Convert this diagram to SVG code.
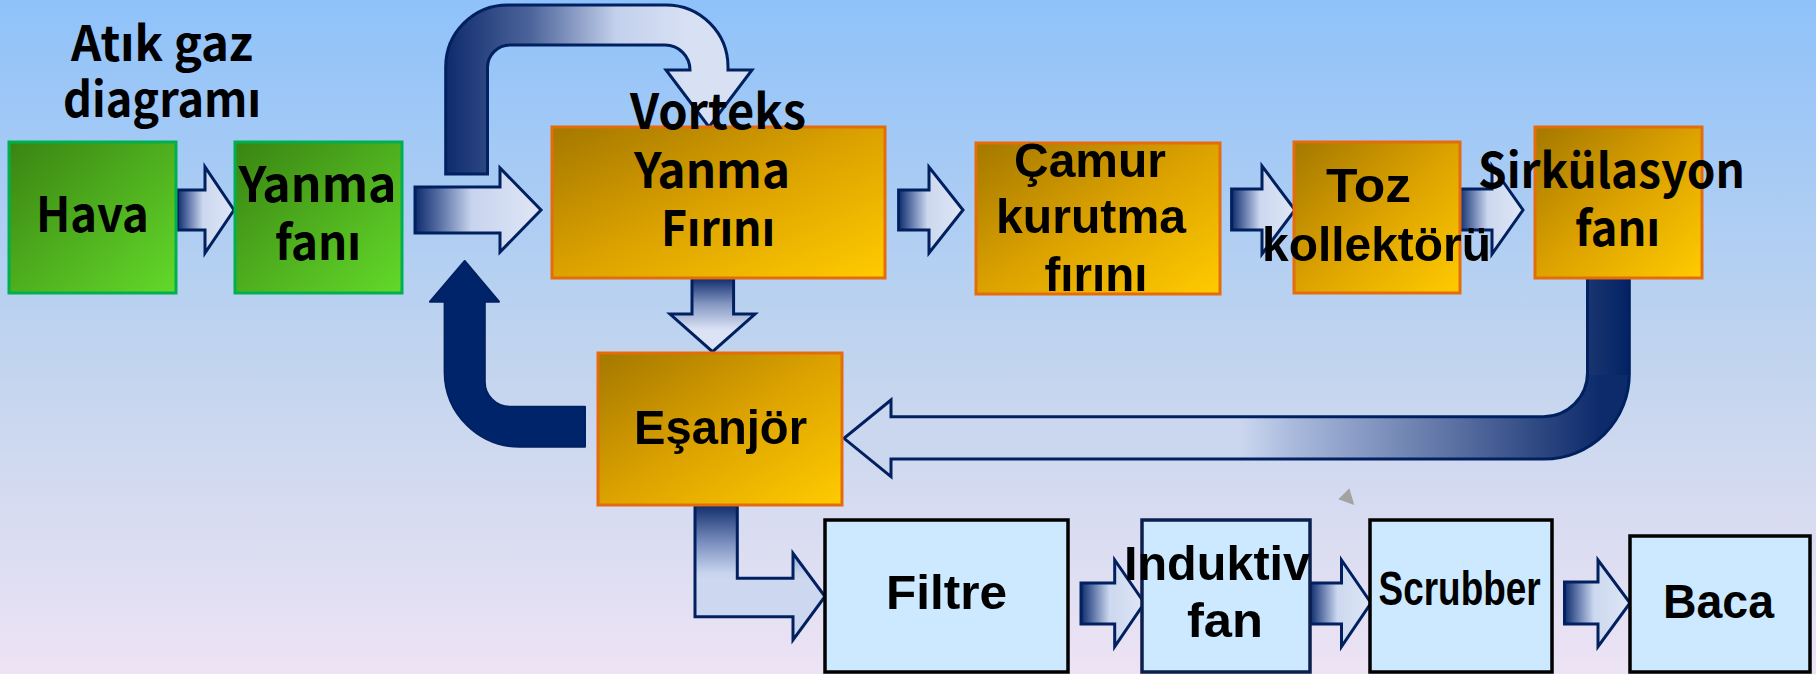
<svg xmlns="http://www.w3.org/2000/svg" width="1816" height="674" viewBox="0 0 1816 674">
  <defs>
    <linearGradient id="bg" x1="0" y1="0" x2="0" y2="1">
      <stop offset="0" stop-color="#8fc2fa"/>
      <stop offset="0.55" stop-color="#c3d5ee"/>
      <stop offset="1" stop-color="#ede3f4"/>
    </linearGradient>
    <linearGradient id="green" x1="0" y1="0" x2="1" y2="1">
      <stop offset="0" stop-color="#3a8412"/>
      <stop offset="1" stop-color="#63d92a"/>
    </linearGradient>
    <linearGradient id="orange" x1="0" y1="0" x2="1" y2="1">
      <stop offset="0" stop-color="#a47800"/>
      <stop offset="0.5" stop-color="#dca200"/>
      <stop offset="1" stop-color="#ffcb00"/>
    </linearGradient>
    <linearGradient id="arrH" x1="0" y1="0" x2="1" y2="0">
      <stop offset="0" stop-color="#0e2b6c"/>
      <stop offset="0.22" stop-color="#6a80b0"/>
      <stop offset="0.45" stop-color="#ccd8ef"/>
      <stop offset="1" stop-color="#dfe6f6"/>
    </linearGradient>
    <linearGradient id="arrBig" gradientUnits="userSpaceOnUse" x1="415" y1="0" x2="541" y2="0">
      <stop offset="0" stop-color="#0e2b6c"/>
      <stop offset="0.2" stop-color="#5a72a6"/>
      <stop offset="0.45" stop-color="#c8d4ee"/>
      <stop offset="1" stop-color="#dfe6f6"/>
    </linearGradient>
    <linearGradient id="arrTop" gradientUnits="userSpaceOnUse" x1="446" y1="0" x2="690" y2="0">
      <stop offset="0" stop-color="#0e2b6c"/>
      <stop offset="0.35" stop-color="#4d659b"/>
      <stop offset="0.7" stop-color="#c4d1ec"/>
      <stop offset="1" stop-color="#d8e1f4"/>
    </linearGradient>
    <linearGradient id="arrDown" gradientUnits="userSpaceOnUse" x1="0" y1="278" x2="0" y2="330">
      <stop offset="0" stop-color="#0e2b6c"/>
      <stop offset="0.5" stop-color="#8597c2"/>
      <stop offset="1" stop-color="#dbe3f5"/>
    </linearGradient>
    <linearGradient id="arrL" gradientUnits="userSpaceOnUse" x1="0" y1="505" x2="0" y2="580">
      <stop offset="0" stop-color="#112d6c"/>
      <stop offset="0.5" stop-color="#7a8fbf"/>
      <stop offset="0.9" stop-color="#c6d3ee"/>
      <stop offset="1" stop-color="#cdd8f0"/>
    </linearGradient>
    <linearGradient id="arrPipe" gradientUnits="userSpaceOnUse" x1="1240" y1="0" x2="1600" y2="0">
      <stop offset="0" stop-color="#cbd7ef"/>
      <stop offset="0.15" stop-color="#a9b9dc"/>
      <stop offset="0.6" stop-color="#5a70a2"/>
      <stop offset="1" stop-color="#0d2a6a"/>
    </linearGradient>
    <linearGradient id="arrPipeV" gradientUnits="userSpaceOnUse" x1="1587" y1="0" x2="1630" y2="0">
      <stop offset="0" stop-color="#1a3670"/>
      <stop offset="1" stop-color="#022264"/>
    </linearGradient>
    <style>
      .box-g { fill: url(#green); stroke: #00b050; stroke-width: 3; }
      .box-o { fill: url(#orange); stroke: #e46c0a; stroke-width: 3; }
      .box-b { fill: #cce9ff; stroke: #000000; stroke-width: 3.5; }
      .arr { stroke: #002060; stroke-width: 3; stroke-linejoin: miter; }
      .small { fill: url(#arrH); }
      .t1 { font-family: "Noto Sans CJK JP", "Noto Sans", sans-serif; font-weight: bold; font-size: 48px; fill: #000; text-anchor: middle; }
      .t2 { font-family: "Liberation Sans", Arial, sans-serif; font-weight: bold; font-size: 49px; fill: #000; text-anchor: middle; }
    </style>
  </defs>

  <rect x="0" y="0" width="1816" height="674" fill="url(#bg)"/>

  <g id="title">
    <text class="t1" x="162" y="61" textLength="182" lengthAdjust="spacingAndGlyphs">Atık gaz</text>
    <text class="t1" x="162" y="117" textLength="198" lengthAdjust="spacingAndGlyphs">diagramı</text>
  </g>

  <g id="connectors">
    <path class="arr" fill="url(#arrTop)" d="M445.7,174 L445.7,67 A62,62 0 0 1 507.7,5 L666,5 A62,62 0 0 1 728,67 L728,70 L752,70 L709,127 L666,70 L690,70 A25,25 0 0 0 665,45 L510,45 A22.5,22.5 0 0 0 487.5,67.5 L487.5,174 Z"/>
    <path class="arr" fill="url(#arrBig)" d="M415,187 L500,187 L500,168 L541,210 L500,252 L500,233 L415,233 Z"/>
    <path class="arr small" d="M177.5,190 L205,190 L205,167 L234,210 L205,253 L205,230 L177.5,230 Z"/>
    <path class="arr small" d="M898.6,190 L929,190 L929,167 L963,210 L929,253 L929,230 L898.6,230 Z"/>
    <path class="arr small" d="M1231.6,189 L1262,189 L1262,166 L1295,210 L1262,254 L1262,230 L1231.6,230 Z"/>
    <path class="arr small" d="M1459,189 L1492,189 L1492,166 L1523,210 L1492,254 L1492,230 L1459,230 Z"/>
    <path class="arr" fill="url(#arrDown)" d="M692,278 L733.6,278 L733.6,314 L755,314 L712.5,351.7 L670,314 L692,314 Z"/>
    <path fill="#00246a" stroke="#002060" stroke-width="2" stroke-linejoin="round" d="M585,406.7 L510,406.7 A25,25 0 0 1 484.8,381.7 L484.8,301.7 L499,301.7 L464.7,261 L430,301.7 L444.6,301.7 L444.6,372 A75,75 0 0 0 519.6,446.7 L585,446.7 Z"/>
    <path class="arr" fill="url(#arrPipe)" d="M1587.5,278 L1629.3,278 L1629.3,374 A85,85 0 0 1 1544.3,459 L891,459 L891,476.7 L844,438.3 L891,400 L891,416.7 L1543.5,416.7 A44,44 0 0 0 1587.5,372.7 Z"/>
    <rect x="1589" y="279" width="39" height="96" fill="url(#arrPipeV)"/>
    <path class="arr" fill="url(#arrL)" d="M695,505 L737.3,505 L737.3,578.3 L793,578.3 L793,553.3 L825,596.5 L793,640 L793,616.7 L695,616.7 Z"/>
    <path class="arr small" d="M1081,583 L1114.7,583 L1114.7,560 L1144.4,603 L1114.7,646.7 L1114.7,624 L1081,624 Z"/>
    <path class="arr small" d="M1310,583 L1341.5,583 L1341.5,560 L1371,603 L1341.5,646.7 L1341.5,624 L1310,624 Z"/>
    <path class="arr small" d="M1564.5,582 L1598,582 L1598,560 L1630,603 L1598,646.7 L1598,624 L1564.5,624 Z"/>
    <polygon points="1338.3,499.3 1349.3,488.3 1354.3,505" fill="#a3a3a3"/>
  </g>

  <g id="hava">
    <rect class="box-g" x="9" y="142" width="167" height="151"/>
    <text class="t1" x="92.4" y="231.7" font-size="50" textLength="113" lengthAdjust="spacingAndGlyphs">Hava</text>
  </g>

  <g id="yanma-fani">
    <rect class="box-g" x="235" y="142" width="167" height="151"/>
    <text class="t1" x="317.5" y="202" textLength="158" lengthAdjust="spacingAndGlyphs">Yanma</text>
    <text class="t1" x="318" y="260" textLength="86" lengthAdjust="spacingAndGlyphs">fanı</text>
  </g>

  <g id="vorteks">
    <rect class="box-o" x="552" y="127" width="333" height="151"/>
    <text class="t1" x="718" y="129.3" textLength="176" lengthAdjust="spacingAndGlyphs">Vorteks</text>
    <text class="t1" x="712" y="188" textLength="156" lengthAdjust="spacingAndGlyphs">Yanma</text>
    <text class="t1" x="718" y="245.7" textLength="114" lengthAdjust="spacingAndGlyphs">Fırını</text>
  </g>

  <g id="camur">
    <rect class="box-o" x="976" y="143" width="244" height="151"/>
    <text class="t2" x="1090" y="177.3" textLength="152" lengthAdjust="spacingAndGlyphs">Çamur</text>
    <text class="t2" x="1091" y="232.7" textLength="190" lengthAdjust="spacingAndGlyphs">kurutma</text>
    <text class="t2" x="1096" y="290.7" textLength="103" lengthAdjust="spacingAndGlyphs">fırını</text>
  </g>

  <g id="toz">
    <rect class="box-o" x="1294" y="142" width="166" height="151"/>
    <text class="t2" x="1368.5" y="202" textLength="85" lengthAdjust="spacingAndGlyphs">Toz</text>
    <text class="t2" x="1376.5" y="261" textLength="229" lengthAdjust="spacingAndGlyphs">kollektörü</text>
  </g>

  <g id="sirkulasyon">
    <rect class="box-o" x="1535" y="127" width="167" height="151"/>
    <text class="t1" x="1611.5" y="188.3" textLength="267" lengthAdjust="spacingAndGlyphs">Sirkülasyon</text>
    <text class="t1" x="1617.5" y="246" textLength="85" lengthAdjust="spacingAndGlyphs">fanı</text>
  </g>

  <g id="esanjor">
    <rect class="box-o" x="598" y="353" width="244" height="152"/>
    <text class="t2" x="720.5" y="444" textLength="173" lengthAdjust="spacingAndGlyphs">Eşanjör</text>
  </g>

  <g id="filtre">
    <rect class="box-b" x="825" y="520" width="243" height="152"/>
    <text class="t2" x="946.5" y="609.3" textLength="121" lengthAdjust="spacingAndGlyphs">Filtre</text>
  </g>

  <g id="induktiv">
    <rect class="box-b" x="1142" y="520" width="168" height="152" style="stroke:#0d1f4d"/>
    <text class="t2" x="1217" y="580" textLength="186" lengthAdjust="spacingAndGlyphs">Induktiv</text>
    <text class="t2" x="1225" y="636.7" textLength="76" lengthAdjust="spacingAndGlyphs">fan</text>
  </g>

  <g id="scrubber">
    <rect class="box-b" x="1370" y="520" width="182" height="152"/>
    <text class="t2" x="1459.6" y="605" font-size="37" textLength="162" lengthAdjust="spacingAndGlyphs">Scrubber</text>
  </g>

  <g id="baca">
    <rect class="box-b" x="1630" y="536" width="180" height="136"/>
    <text class="t2" x="1718.5" y="618.3" textLength="111" lengthAdjust="spacingAndGlyphs">Baca</text>
  </g>
</svg>
